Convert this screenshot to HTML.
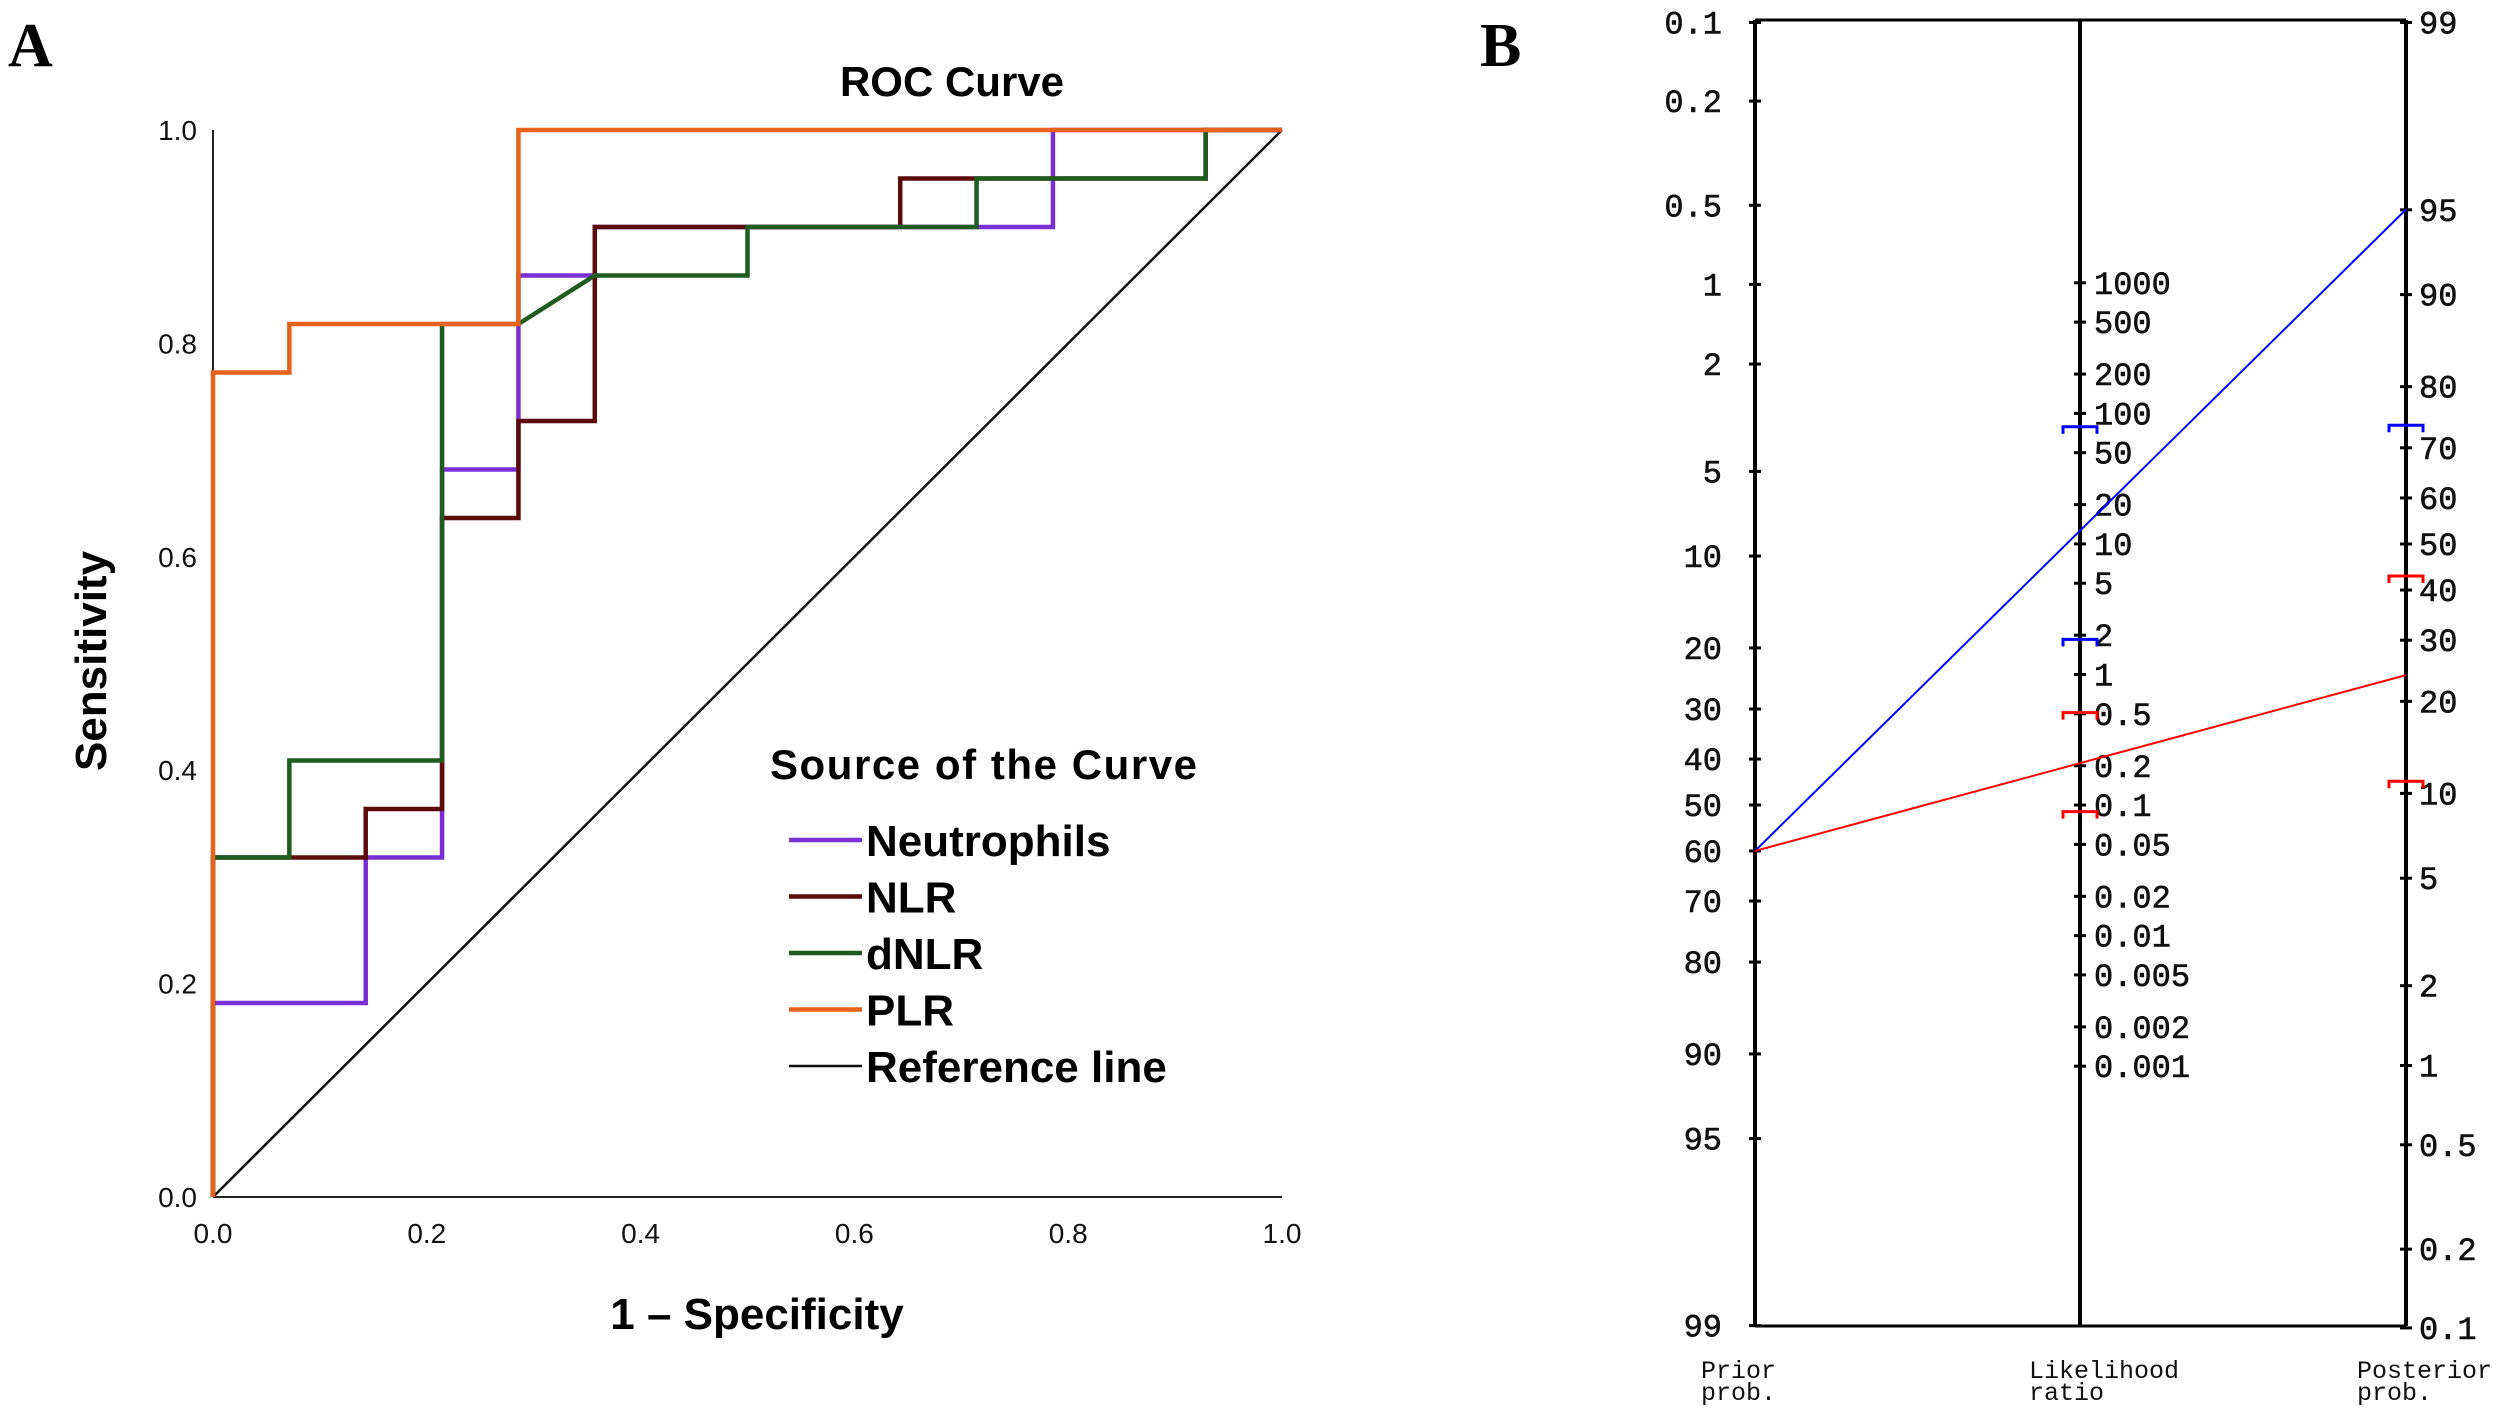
<!DOCTYPE html>
<html><head><meta charset="utf-8">
<style>
html,body{margin:0;padding:0;background:#fff;}
svg{display:block;}
text{font-family:"Liberation Sans",sans-serif;}
.mono{font-family:"Liberation Mono",monospace;}
</style></head>
<body>
<svg id="chart" width="2508" height="1416" viewBox="0 0 2508 1416" xmlns="http://www.w3.org/2000/svg">
<text x="8" y="66" font-weight="bold" font-size="62" style="font-family:'Liberation Serif',serif">A</text>
<text x="1480" y="66" font-weight="bold" font-size="62" style="font-family:'Liberation Serif',serif">B</text>
<text x="952" y="96" text-anchor="middle" font-weight="bold" font-size="42">ROC Curve</text>
<text transform="translate(106,661) rotate(-90)" text-anchor="middle" font-weight="bold" font-size="44">Sensitivity</text>
<text x="757" y="1329" text-anchor="middle" font-weight="bold" font-size="44">1 – Specificity</text>
<g id="roc"></g>
<g id="legend"></g>
<g id="nomo"></g>
</svg>
<script>
const NS='http://www.w3.org/2000/svg';
const seriesNames=['Neutrophils','NLR','dNLR','PLR'];
const seriesColors=['#7a2fd4','#5c0b0b','#1f5c1f','#e8621e'];
const neutroX=[0,0,2/14,2/14,3/14,3/14,4/14,4/14,5/14,5/14,11/14,11/14,1];
const neutroY=[0,4/22,4/22,7/22,7/22,15/22,15/22,19/22,19/22,20/22,20/22,1,1];
const nlrX=[0,0,2/14,2/14,3/14,3/14,4/14,4/14,5/14,5/14,9/14,9/14,13/14,13/14,1];
const nlrY=[0,7/22,7/22,8/22,8/22,14/22,14/22,16/22,16/22,20/22,20/22,21/22,21/22,1,1];
const dnlrX=[0,0,1/14,1/14,3/14,3/14,4/14,5/14,7/14,7/14,10/14,10/14,13/14,13/14,1];
const dnlrY=[0,7/22,7/22,9/22,9/22,18/22,18/22,19/22,19/22,20/22,20/22,21/22,21/22,1,1];
const plrX=[0,0,1/14,1/14,4/14,4/14,1];
const plrY=[0,17/22,17/22,18/22,18/22,1,1];
const rocTicks=[0,0.2,0.4,0.6,0.8,1.0];
const rocTickLabels=['0.0','0.2','0.4','0.6','0.8','1.0'];

const priorTicks=[0.1,0.2,0.5,1,2,5,10,20,30,40,50,60,70,80,90,95,99];
const lrTicks=[1000,500,200,100,50,20,10,5,2,1,0.5,0.2,0.1,0.05,0.02,0.01,0.005,0.002,0.001];
const postTicks=[99,95,90,80,70,60,50,40,30,20,10,5,2,1,0.5,0.2,0.1];
const priorProb=60;
const lrValues=[12.7,0.21];
const lrColors=['#0000ff','#ff0000'];
const lrCIblue=[79,1.86];
const lrCIred=[0.51,0.089];
const postCIblue=[74];
const postCIred=[43,11];

function el(tag,attrs,parent){const e=document.createElementNS(NS,tag);for(const k in attrs)e.setAttribute(k,attrs[k]);parent.appendChild(e);return e;}
const X=v=>213+1069*v, Y=v=>1197-1067*v;
const roc=document.getElementById('roc');
let a=el('line',{x1:X(0),y1:Y(0),x2:X(0),y2:Y(1),stroke:'#222','stroke-width':2},roc);


a=el('line',{x1:X(0),y1:Y(0),x2:X(1),y2:Y(0),stroke:'#222','stroke-width':2},roc);


rocTicks.forEach((t,i)=>{
  let tx=el('text',{x:X(0)-16,y:Y(t)+10,'text-anchor':'end','font-size':28,fill:'#111'},roc);tx.textContent=rocTickLabels[i];
  
  
  tx=el('text',{x:X(t),y:Y(0)+46,'text-anchor':'middle','font-size':28,fill:'#111'},roc);tx.textContent=rocTickLabels[i];
  
  
});
let ref=el('line',{x1:X(0),y1:Y(0),x2:X(1),y2:Y(1),stroke:'#111','stroke-width':2.5},roc);


const sx=[neutroX,nlrX,dnlrX,plrX], sy=[neutroY,nlrY,dnlrY,plrY];
sx.forEach((xs,i)=>{
  const pts=xs.map((x,j)=>X(x)+','+Y(sy[i][j])).join(' ');
  const p=el('polyline',{points:pts,fill:'none',stroke:seriesColors[i],'stroke-width':4.5},roc);
  
  
});
const lg=document.getElementById('legend');
let lt=el('text',{x:770,y:779,'font-size':42,'font-weight':'bold',textLength:427},lg);lt.textContent='Source of the Curve';


const legNames=seriesNames.concat(['Reference line']);
const legCols=seriesColors.concat(['#111']);
legNames.forEach((n,i)=>{
  const y=840+i*56.5;
  const ln=el('line',{x1:789,y1:y,x2:862,y2:y,stroke:legCols[i],'stroke-width':i<4?4.5:2.5},lg);
  
  
  const t=el('text',{x:866,y:y+16,'font-size':44,'font-weight':'bold'},lg);t.textContent=n;
  
  
});

const nm=document.getElementById('nomo');
const L=1755,M=2080,R=2406,TOP=20,BOT=1326;
const logit=p=>Math.log(p/(100-p));
const yL=p=>805+113.3*logit(p), yR=p=>544-113.5*logit(p), yM=v=>674.5-56.7*Math.log(v);
[[L,'prior-axis'],[M,'likelihood-ratio-axis'],[R,'posterior-axis']].forEach(([x,n])=>{
  const l=el('line',{x1:x,y1:TOP,x2:x,y2:BOT,stroke:'#000','stroke-width':4},nm);
  
  
});
[TOP,BOT].forEach(y=>{
  const l=el('line',{x1:L,y1:y,x2:R,y2:y,stroke:'#000','stroke-width':3},nm);
  
  
});
function tick(x,y,label,anchor,tx){
  const l=el('line',{x1:x-6,y1:y,x2:x+6,y2:y,stroke:'#000','stroke-width':3},nm);
  
  
  const t=el('text',{x:tx,y:y+11,'text-anchor':anchor,'font-size':32,class:'mono',fill:'#111',stroke:'#111','stroke-width':0.6},nm);t.textContent=label;
  
  
}
priorTicks.forEach(p=>tick(L,yL(p),String(p),'end',1722));
lrTicks.forEach(v=>tick(M,yM(v),String(v),'start',2094));
postTicks.forEach(p=>tick(R,yR(p),String(p),'start',2419));
lrValues.forEach((v,i)=>{
  const pOdds=priorProb/(100-priorProb)*v, post=100*pOdds/(1+pOdds);
  const l=el('line',{x1:L,y1:yL(priorProb),x2:R,y2:yR(post),stroke:lrColors[i],'stroke-width':2},nm);
  
  
});
function bracket(x,y,c){
  const p=el('path',{d:`M${x-17},${y+7}V${y}H${x+17}V${y+7}`,fill:'none',stroke:c,'stroke-width':3},nm);
  
  
}
lrCIblue.forEach(v=>bracket(M,yM(v),'#0000ff'));
lrCIred.forEach(v=>bracket(M,yM(v),'#ff0000'));
postCIblue.forEach(p=>bracket(R,yR(p),'#0000ff'));
postCIred.forEach(p=>bracket(R,yR(p),'#ff0000'));
[['Prior','prob.',1701,'prior-axis-title'],['Likelihood','ratio',2029,'lr-axis-title'],['Posterior','prob.',2357,'posterior-axis-title']].forEach(([a1,a2,x,n])=>{
  const t=el('text',{x:x,y:1378,'font-size':25,class:'mono',fill:'#111'},nm);
  
  
  const s1=el('tspan',{x:x},t);s1.textContent=a1;
  const s2=el('tspan',{x:x,dy:22},t);s2.textContent=a2;
});
</script>
</body></html>
